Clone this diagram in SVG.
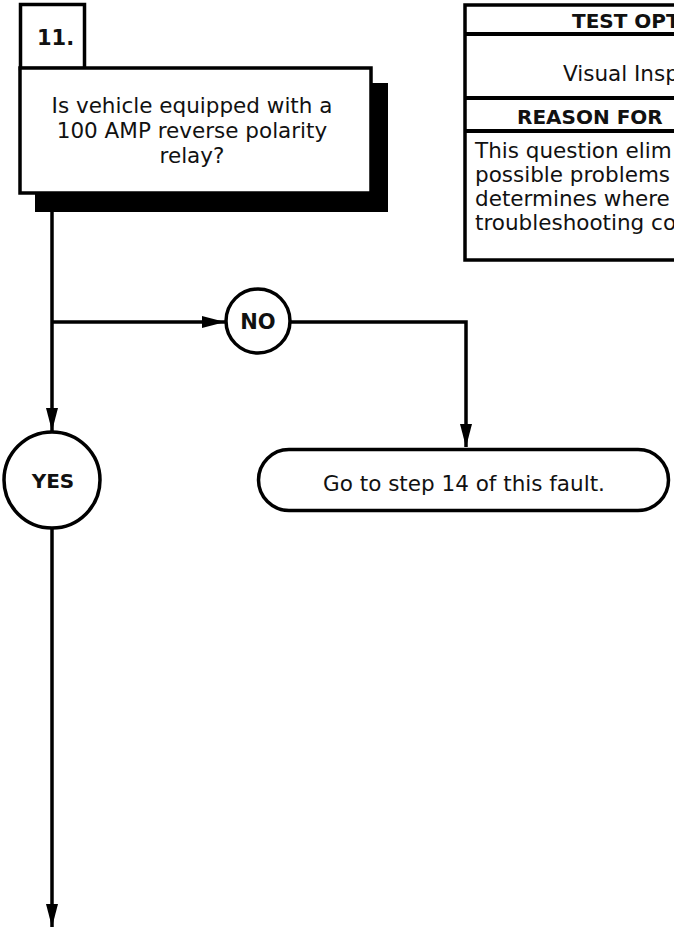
<svg xmlns="http://www.w3.org/2000/svg" width="674" height="933" viewBox="0 0 674 933">
<style>
.bx{fill:#fff;stroke:#000;stroke-width:3.5}
.sh{fill:#000}
.ln{fill:none;stroke:#000;stroke-width:3.5}
.t{font-family:"DejaVu Sans","Liberation Sans",sans-serif;font-size:21.5px;fill:#111}
.b{font-family:"DejaVu Sans","Liberation Sans",sans-serif;font-weight:bold;fill:#111}
</style>
<defs>
<marker id="ah" markerUnits="userSpaceOnUse" markerWidth="24" markerHeight="12" refX="23" refY="6" orient="auto">
<path d="M0,0 L23,6 L0,12 z" fill="#000"/>
</marker>
</defs>
<g id="connectors">
<path class="ln" d="M52,212 V431" marker-end="url(#ah)"/>
<path class="ln" d="M52,322 H225" marker-end="url(#ah)"/>
<path class="ln" d="M290,322 H466 V447" marker-end="url(#ah)"/>
<path class="ln" d="M52,529 V927" marker-end="url(#ah)"/>
</g>
<g id="step11">
<rect class="bx" x="20.5" y="4.5" width="64" height="64"/>
<text class="b" x="37" y="45" font-size="21">11.</text>
</g>
<g id="question">
<rect class="sh" x="35" y="83" width="353" height="129"/>
<rect class="bx" x="20" y="68" width="351" height="125"/>
<text class="t" text-anchor="middle" x="192" y="113">Is vehicle equipped with a</text>
<text class="t" text-anchor="middle" x="192" y="138">100 AMP reverse polarity</text>
<text class="t" text-anchor="middle" x="192" y="163">relay?</text>
</g>
<g id="panel">
<rect class="bx" x="465" y="5" width="400" height="255"/>
<line x1="465" y1="34" x2="674" y2="34" stroke="#000" stroke-width="4"/>
<line x1="465" y1="98" x2="674" y2="98" stroke="#000" stroke-width="4"/>
<line x1="465" y1="131" x2="674" y2="131" stroke="#000" stroke-width="4"/>
<text class="b" x="572" y="28" font-size="20">TEST OPT</text>
<text class="t" x="563" y="81">Visual Insp</text>
<text class="b" x="517" y="124" font-size="20">REASON FOR</text>
<text class="t" x="475" y="158">This question elim</text>
<text class="t" x="475" y="182">possible problems</text>
<text class="t" x="475" y="206">determines where</text>
<text class="t" x="475" y="230">troubleshooting co</text>
</g>
<g id="no">
<circle class="bx" cx="258" cy="321" r="32"/>
<text class="b" x="258" y="329" font-size="21" text-anchor="middle">NO</text>
</g>
<g id="yes">
<circle class="bx" cx="52" cy="480" r="48"/>
<text class="b" x="53" y="488" font-size="20" text-anchor="middle">YES</text>
</g>
<g id="goto14">
<rect class="bx" x="258.5" y="449.5" width="410" height="61" rx="30.5"/>
<text class="t" x="464" y="491" text-anchor="middle" font-size="22">Go to step 14 of this fault.</text>
</g>
</svg>
